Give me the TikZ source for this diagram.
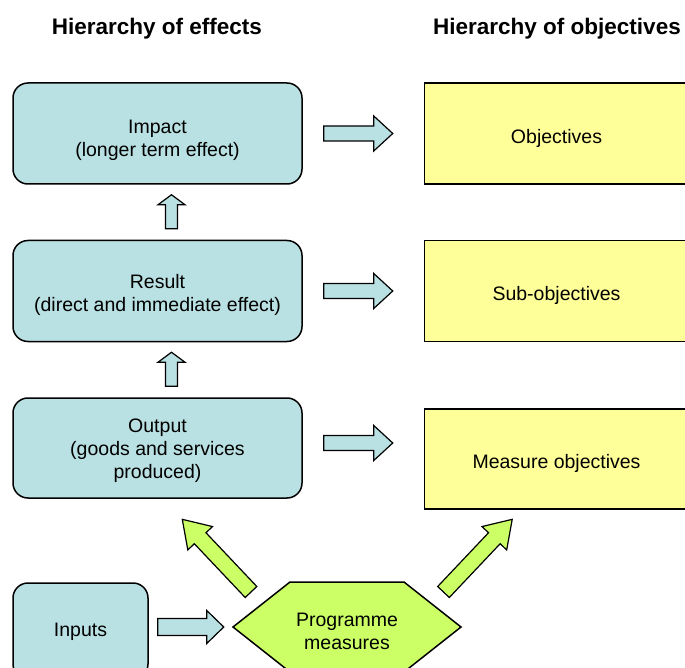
\documentclass[tikz,border=0pt]{standalone}
\usepackage{fontspec}
\setmainfont{Liberation Sans}
\usetikzlibrary{positioning}
\usetikzlibrary{calc}
\definecolor{effectblue}{RGB}{185,224,226}
\definecolor{objyellow}{RGB}{255,255,153}
\definecolor{measgreen}{RGB}{204,255,102}
\newcommand{\topstrut}[1]{\rule{0pt}{#1}}
\begin{document}
\begin{tikzpicture}[x=1pt,y=-1pt]
			\tikzset{effect/.style = {shape=rectangle, rounded corners=15pt, draw, line width=1.5pt, fill=effectblue, minimum width=289pt, minimum height=101pt, align=center, inner sep=0pt, font=\fontsize{19.5}{23}\selectfont},
				objective/.style = {shape=rectangle, draw, line width=1.5pt, fill=objyellow, minimum width=264pt, minimum height=101pt, align=center, inner sep=0pt, font=\fontsize{19.5}{23}\selectfont},
				heading/.style = {font=\fontsize{22.5}{26}\selectfont\bfseries, inner sep=0pt},
				bluearrow/.style = {draw, line width=1.2pt, fill=effectblue},
				greenarrow/.style = {draw, line width=1.2pt, fill=measgreen},
				pics/fatarrow/.style args={#1/#2/#3/#4}{code={
						\draw[pic actions] (0,-#2) -- (#1-#4,-#2) -- (#1-#4,-#3) -- (#1,0) -- (#1-#4,#3) -- (#1-#4,#2) -- (0,#2) -- cycle;
				}}}
			\clip (0,0) rectangle (685,668);
			\useasboundingbox (0,0) rectangle (685,668);
			% headings
			\node[heading] (effectstitle) at (157,29) {Hierarchy of effects};
			\node[heading] (objtitle) at (557,29) {Hierarchy of objectives};
			% hierarchy of effects
			\node[effect] (impact) at (157.5,133.5) {\topstrut{28pt}Impact\\(longer term effect)};
			\node[effect, below=55pt of impact] (result) {\topstrut{22pt}Result\\(direct and immediate effect)};
			\node[effect, below=55pt of result, minimum height=100pt] (output) {\topstrut{20pt}Output\\(goods and services\\produced)};
			\node[effect, minimum width=135pt, minimum height=96pt] (inputs) at (80.5,631) {\topstrut{15pt}Inputs};
			% hierarchy of objectives
			\node[objective, right=121pt of impact] (objectives) {\topstrut{24pt}Objectives};
			\node[objective, right=121pt of result] (subobjectives) {\topstrut{24pt}Sub-objectives};
			\node[objective, right=121pt of output, yshift=-11pt, minimum height=100pt] (measureobj) {\topstrut{24pt}Measure objectives};
			% programme measures
			\coordinate (hexcentre) at (347,627);
			\draw[line width=1.5pt, fill=measgreen] ($(hexcentre)+(-114,0)$) -- ++(57,-45) -- ++(114,0) -- ++(57,45) -- ++(-57,45) -- ++(-114,0) -- cycle;
			\node[font=\fontsize{19.5}{23}\selectfont, align=center, inner sep=0pt] (measures) at ($(hexcentre)+(0,4)$) {Programme\\measures};
			% block arrows
			\pic[bluearrow] at ($(impact.east)+(21,0)$) {fatarrow=69/7.5/17.5/19};
			\pic[bluearrow] at ($(result.east)+(21,0)$) {fatarrow=69/7.5/17.5/19};
			\pic[bluearrow] at ($(output.east)+(21,-5)$) {fatarrow=69/7.5/17.5/19};
			\pic[bluearrow, rotate=90] at ($(result.north)+(14,-11)$) {fatarrow=34/6/13.5/10};
			\pic[bluearrow, rotate=90] at ($(output.north)+(14,-11)$) {fatarrow=34/6/13.5/10};
			\pic[bluearrow] at ($(inputs.east)+(9,-4)$) {fatarrow=66/8.5/16.5/17};
			\pic[greenarrow, rotate=133.4] at ($(hexcentre)+(-96,-35)$) {fatarrow=100/8/17/26};
			\pic[greenarrow, rotate=46.6] at ($(hexcentre)+(96.5,-35)$) {fatarrow=100/8/17/26};
\end{tikzpicture}
\end{document}
